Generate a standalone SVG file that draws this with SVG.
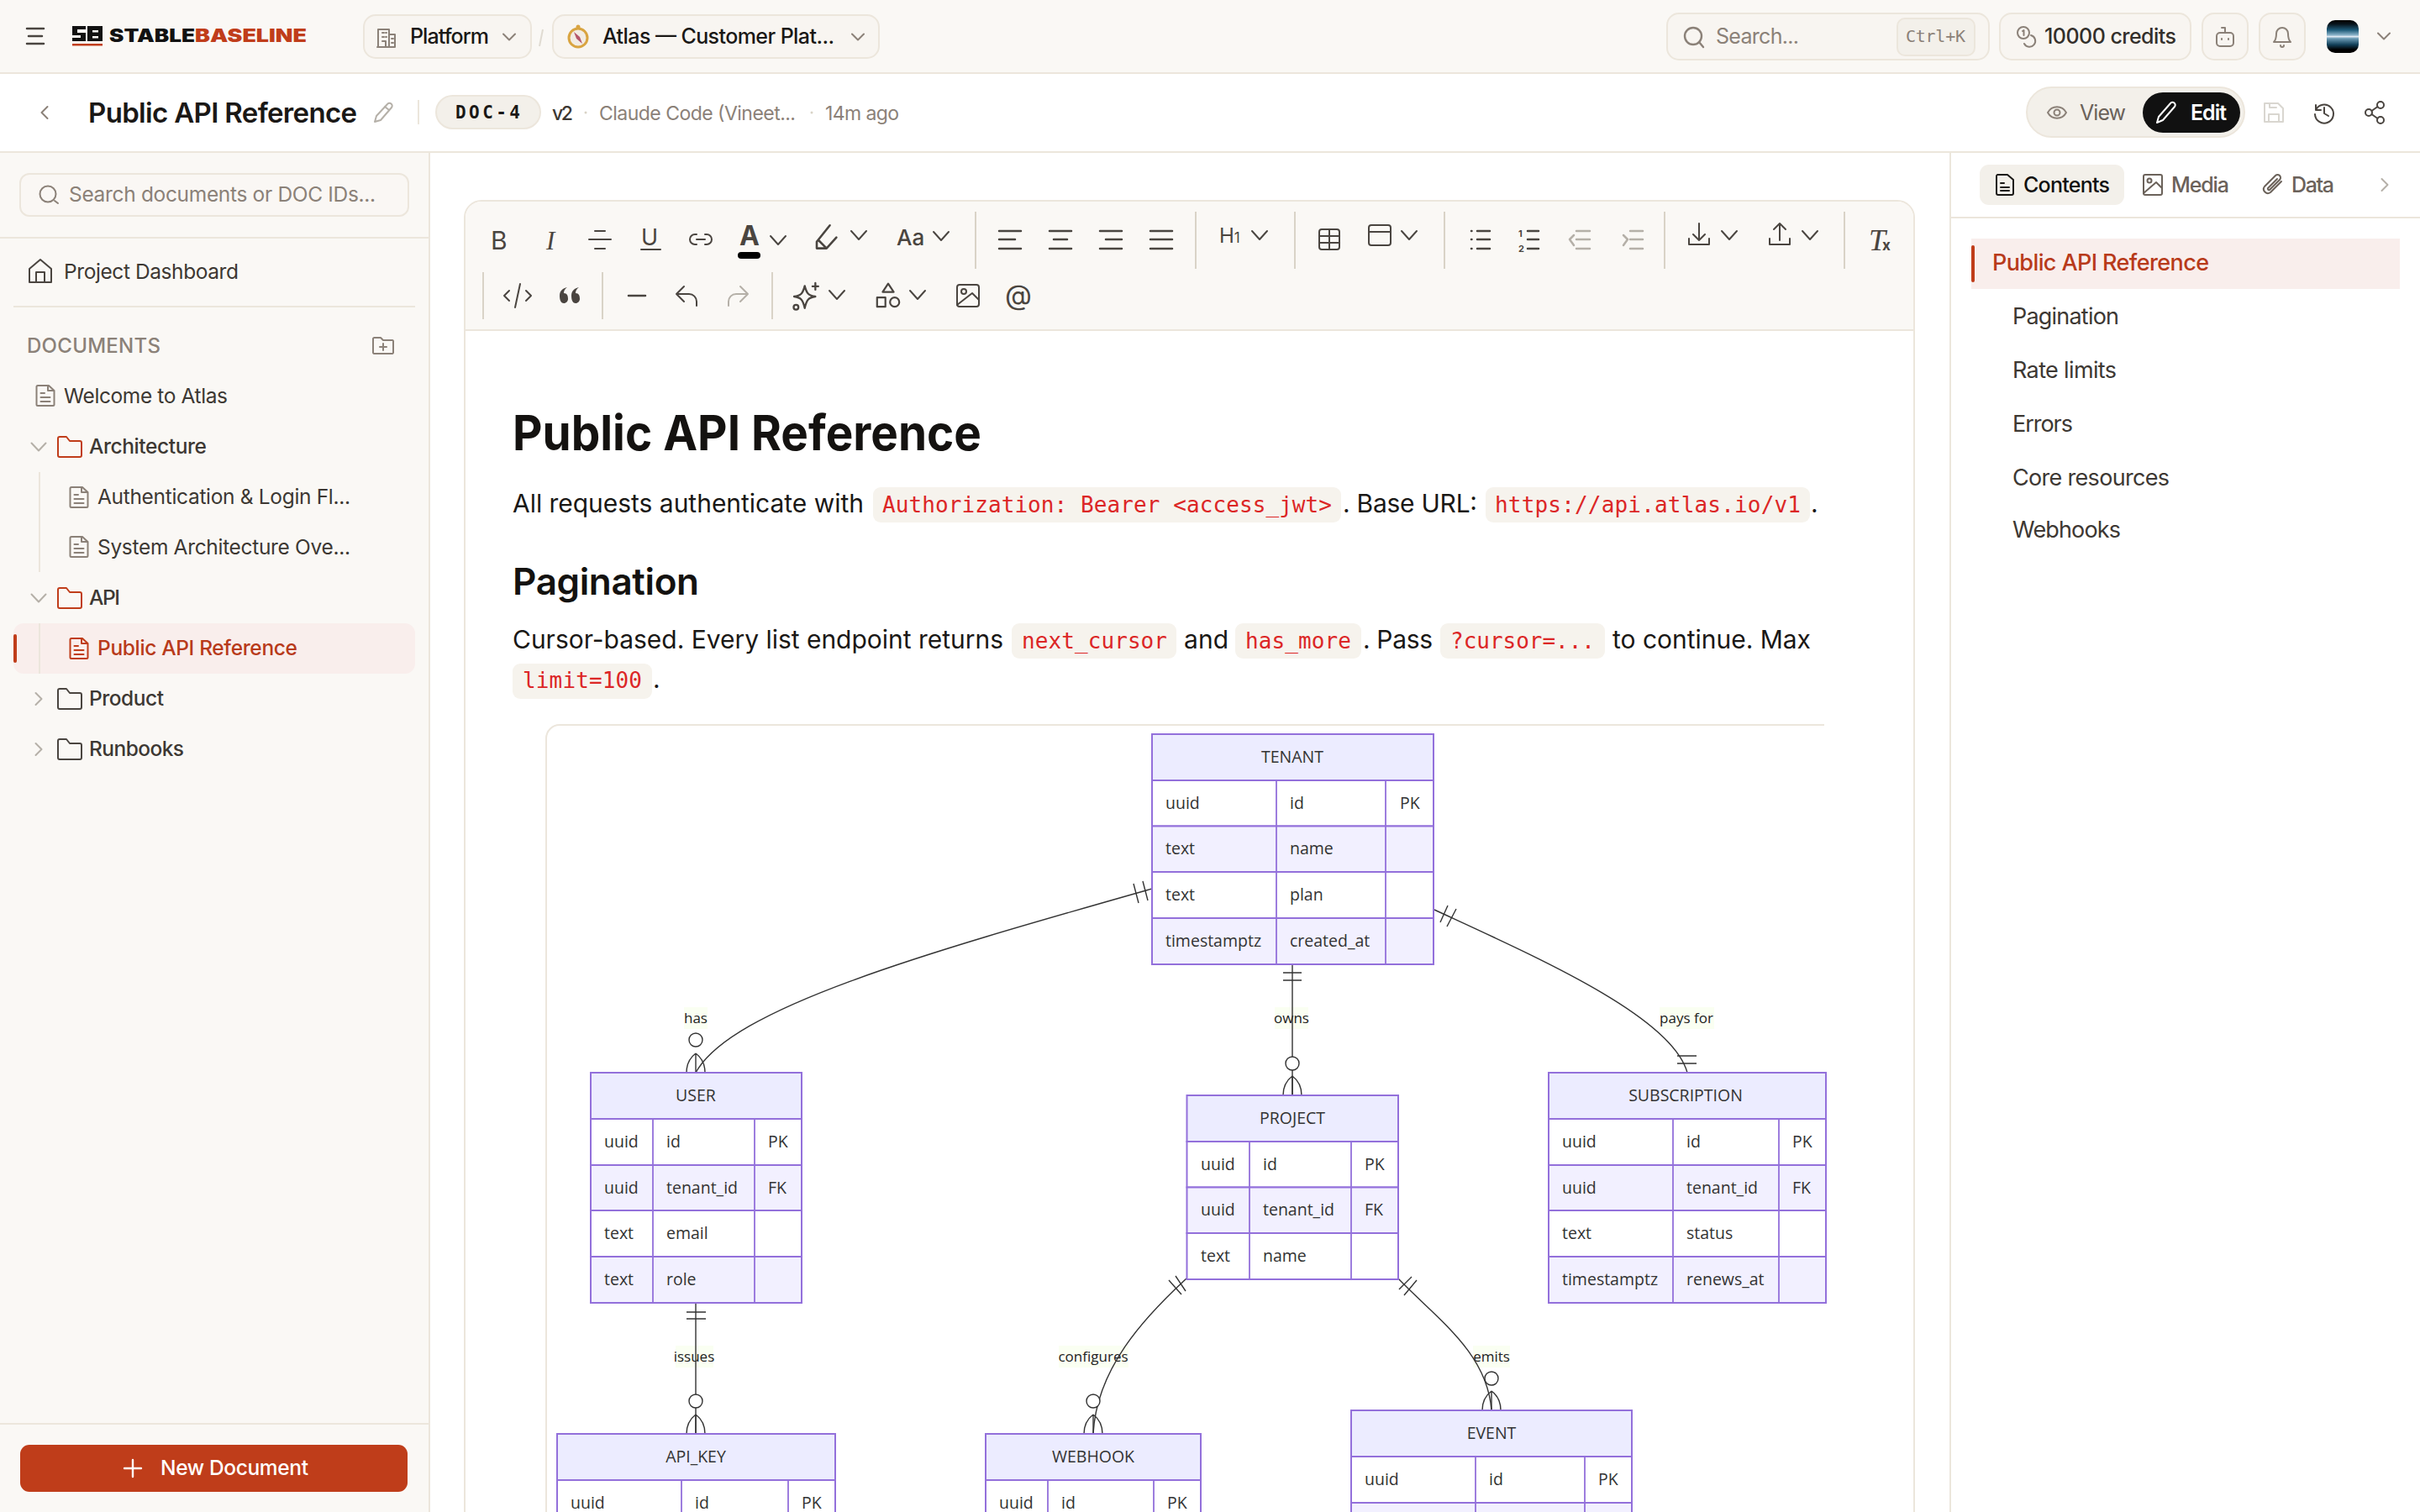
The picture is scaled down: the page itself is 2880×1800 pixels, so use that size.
<svg xmlns="http://www.w3.org/2000/svg" width="2880" height="1800" viewBox="0 0 2880 1800">
<style>
text{font-family:Inter,"Noto Sans",sans-serif;fill:#1a1816}
.i{fill:none;stroke:#4a4540;stroke-width:2;stroke-linecap:round;stroke-linejoin:round}
.g{stroke:#8b8178}.l{stroke:#b5b0a8}.r{stroke:#c03d1a}.k{stroke:#1a1816}
.bd{fill:none;stroke:#ece6dc;stroke-width:2}
.pill{fill:#f8f5f1;stroke:#ece6dc;stroke-width:2}
.sb{font-size:24.5px;fill:#3d3833}
.toc{font-size:27px;fill:#3d3833}
.p{font-size:30px;fill:#1a1816}
.c{font-family:"DejaVu Sans Mono","Liberation Mono",monospace;font-size:26px;fill:#dc2626}
.cb{fill:#f6f3ed}
.div{stroke:#d9d3c7;stroke-width:2}
.hd{fill:#ececff;stroke:#9370db;stroke-width:2}
.ra{fill:#fff;stroke:#9370db;stroke-width:2}
.rb{fill:#f2f0ff;stroke:#9370db;stroke-width:2}
.cl{stroke:#9370db;stroke-width:1.8}
.er{font-family:"Open Sans","Noto Sans",sans-serif;font-size:19.5px;fill:#333}
.et{text-anchor:middle}
.elb{fill:#f9ffef;opacity:.8}
.el{font-family:"Open Sans","Noto Sans",sans-serif;font-size:17px;fill:#222;text-anchor:middle}
.cn{fill:none;stroke:#333;stroke-width:1.4}
</style>
<defs>
<linearGradient id="av" x1="0" y1="0" x2="0" y2="1"><stop offset="0" stop-color="#000"/><stop offset=".12" stop-color="#08141c"/><stop offset=".3" stop-color="#1d5a78"/><stop offset=".46" stop-color="#8fb6cc"/><stop offset=".5" stop-color="#dfeaf3"/><stop offset=".56" stop-color="#6b9bb5"/><stop offset=".75" stop-color="#123f58"/><stop offset=".9" stop-color="#000"/></linearGradient>
<path id="chd" d="M-7-3.500 0 3.500 7-3.500"/>
<path id="chb" d="M-9-5 0 5 9-5"/>
<path id="chs" d="M-8.500-4.500 0 4.500 8.500-4.500"/>
<path id="chr" d="M-3.500-7 3.500 0-3.500 7"/>
<path id="doc" d="M-9-12H4L10.500-6V10.500A1.500 1.500 0 0 1 9 12H-9A1.500 1.500 0 0 1-10.500 10.500V-10.500A1.500 1.500 0 0 1-9-12ZM3-12V-6H10.500M-5.500-3H-1M-5.500 2H5.500M-5.500 7H5.500"/>
<path id="fld" d="M-14-10A2 2 0 0 1-12-12H-4L0-7H12A2 2 0 0 1 14-5V10A2 2 0 0 1 12 12H-12A2 2 0 0 1-14 10Z"/>
<path id="crow" d="M0 0C-8 6-11 14-11 23M0 0C8 6 11 14 11 23M0 0V23"/>
</defs>
<rect width="2880" height="1800" fill="#fff"/>

<!-- top bar -->
<rect width="2880" height="87" fill="#faf8f5"/>
<path d="M0 87H2880M0 181H2880" class="bd"/>
<path d="M32 34H52M34 43H50M32 52H52" class="i" style="stroke-width:2.500"/>
<g id="logo">
<path d="M86 31H102V35H92V39H102V49H86V45H96V42H86ZM104 31H122V49H104ZM110 36V38.500H117V36ZM110 43V45.500H117V43Z" fill="#111" fill-rule="evenodd"/>
<rect x="86" y="52" width="36" height="2.500" fill="#c03d1a"/>
<text x="130" y="49.500" font-size="21" font-weight="900" textLength="102" lengthAdjust="spacingAndGlyphs" style="fill:#111">STABLE</text>
<text x="232" y="49.500" font-size="21" font-weight="900" textLength="133" lengthAdjust="spacingAndGlyphs" style="fill:#c03d1a">BASELINE</text>
</g>
<rect x="433" y="18" width="199" height="51" rx="14" class="pill"/>
<g class="i g" transform="translate(460 44)"><path d="M-10 12V-9H3V12ZM3-3H10V12H-11M-5-5H-3M0-5H-1M-5 0H-3M0 0H-1M-5 5H-1V12M6 2H8M6 7H8"/></g>
<text x="488" y="52" font-size="25" font-weight="500" textLength="94">Platform</text>
<use href="#chd" class="i g" x="606" y="44"/>
<path d="M646 35 642 55" stroke="#e0dbd2" stroke-width="2"/>
<rect x="658" y="18" width="388" height="51" rx="14" class="pill"/>
<g transform="translate(688 45)"><circle r="11" fill="#f2ece4" stroke="#d9a441" stroke-width="3"/><path d="M-5-7 2-1 5 7-2 1Z" fill="#b5566b"/><circle cy="-13" r="2.500" fill="#d9a441"/></g>
<text x="717" y="52" font-size="25" font-weight="500" textLength="276">Atlas — Customer Plat...</text>
<use href="#chd" class="i g" x="1021" y="44"/>

<rect x="1984" y="16" width="383" height="55" rx="14" class="pill"/>
<g class="i g" style="stroke-width:2.400" transform="translate(2016 44)"><circle cx="-1" cy="-1" r="10"/><path d="M6 6 11 12"/></g>
<text x="2042" y="52" font-size="25" textLength="99" style="fill:#8b8178">Search...</text>
<rect x="2258" y="22" width="92" height="44" rx="9" fill="#f3f0ea" stroke="#ece6dc" stroke-width="2"/>
<text x="2268" y="50" font-size="20" textLength="71" style="font-family:'DejaVu Sans Mono',monospace;fill:#8b8178">Ctrl+K</text>
<rect x="2380" y="16" width="227" height="55" rx="14" class="pill"/>
<g class="i g" transform="translate(2412 44)"><circle cx="-4" cy="-5" r="7"/><path d="M-5-7-3.500-8V-2M5-2A7 7 0 1 1-3 8"/></g>
<text x="2433" y="52" font-size="25" font-weight="500" textLength="157" style="fill:#332f2b">10000 credits</text>
<rect x="2621" y="16" width="54" height="55" rx="14" class="pill"/>
<g class="i g" transform="translate(2648 44)"><rect x="-10" y="-5" width="20" height="16" rx="4"/><path d="M0-5V-11H-4M-4 2V3M4 2V3"/></g>
<rect x="2689" y="16" width="54" height="55" rx="14" class="pill"/>
<g class="i g" transform="translate(2716 44)"><path d="M-10 6C-7 3-7-1-7-4A7 7 0 0 1 7-4C7-1 7 3 10 6ZM-2 10A2 2 0 0 0 2 10"/></g>
<rect x="2769" y="24" width="38" height="39" rx="10" fill="url(#av)"/>
<use href="#chd" class="i g" x="2837" y="43"/>

<!-- document header -->
<use href="#chr" class="i g" transform="translate(53 134) scale(-1 1)"/>
<text x="105" y="146" font-size="33" font-weight="600" textLength="320">Public API Reference</text>
<g class="i l" transform="translate(456 134)"><path d="M-10 11-8 4 5-10A2.500 2.500 0 0 1 10-6L-3 9Z"/><path d="M2-7 7-3"/></g>
<path d="M498 119V148" class="bd"/>
<rect x="519" y="114" width="124" height="39" rx="19.500" fill="#f3f0ea" stroke="#ece6dc" stroke-width="2"/>
<text x="542" y="141" font-size="21" font-weight="700" textLength="77" style="font-family:'DejaVu Sans Mono',monospace">DOC-4</text>
<text x="657" y="143" font-size="23" font-weight="500" textLength="25" style="fill:#3d3833">v2</text>
<circle cx="697" cy="134" r="1.500" fill="#d9d3c7"/>
<text x="713" y="143" font-size="23" textLength="234" style="fill:#8b8178">Claude Code (Vineet...</text>
<circle cx="966" cy="134" r="1.500" fill="#d9d3c7"/>
<text x="982" y="143" font-size="23" textLength="88" style="fill:#8b8178">14m ago</text>

<rect x="2412" y="104" width="259" height="59" rx="29.500" fill="#f3f0ea" stroke="#ece6dc" stroke-width="2"/>
<rect x="2550" y="110" width="116" height="48" rx="24" fill="#111"/>
<g class="i g" transform="translate(2448 134)"><path d="M-11 0C-6-9 6-9 11 0 6 9-6 9-11 0Z"/><circle r="3.500"/></g>
<text x="2475" y="143" font-size="25" textLength="55" style="fill:#6b625a">View</text>
<g class="i" style="stroke:#fff" transform="translate(2578 134)"><path d="M-11 12-9 5 5-11A3 3 0 0 1 10-7L-4 9Z"/></g>
<text x="2607" y="143" font-size="25" font-weight="600" textLength="43" style="fill:#fff">Edit</text>
<g class="i" style="stroke:#d9d6d0" transform="translate(2706 134)"><path d="M-11-11H5L11-5V11H-11ZM-6 11V2H6V11M-5-11V-6H3"/></g>
<g class="i" transform="translate(2766 134)"><path d="M-10-9V-3H-4M-10-3A11 11 0 1 1-11 2M0-6V1L5 4"/></g>
<g class="i" transform="translate(2826 134)"><circle cx="7" cy="-9" r="4"/><circle cx="-7" cy="0" r="4"/><circle cx="7" cy="9" r="4"/><path d="M-3.500-2 3.500-7M-3.500 2 3.500 7"/></g>

<!-- sidebar -->
<rect x="0" y="182" width="510" height="1618" fill="#faf8f5"/>
<path d="M511 182V1800" class="bd"/>
<rect x="24" y="207" width="462" height="50" rx="11" fill="#faf7f4" stroke="#ece6dc" stroke-width="2"/>
<g class="i g" transform="translate(58 232)"><circle cx="-1" cy="-1" r="9.500"/><path d="M7 7 11 10"/></g>
<text x="82" y="240" class="sb" textLength="365" style="fill:#8b8178">Search documents or DOC IDs...</text>
<path d="M0 283H510M16 365H494" class="bd"/>
<g class="i" transform="translate(48 323)"><path d="M-13 13V-3L0-14 13-3V13ZM-5 13V1H5V13"/></g>
<text x="76" y="332" class="sb" textLength="208">Project Dashboard</text>
<text x="32" y="420" font-size="24" font-weight="500" textLength="159" style="fill:#8b8178">DOCUMENTS</text>
<g class="i g" transform="translate(456 412)"><path d="M-12-9A1.500 1.500 0 0 1-10-10H-3L0-7H11A1.500 1.500 0 0 1 12-5V8A1.500 1.500 0 0 1 11 9H-11A1.500 1.500 0 0 1-12 8ZM-4 1H4M0-3V5"/></g>
<use href="#doc" class="i g" x="54" y="471"/>
<text x="76" y="480" class="sb" textLength="195">Welcome to Atlas</text>
<use href="#chs" class="i l" x="46" y="532"/>
<use href="#fld" class="i r" x="83" y="532"/>
<text x="106" y="540" class="sb" font-weight="500" textLength="140">Architecture</text>
<path d="M47 562V681" class="bd"/>
<use href="#doc" class="i g" x="94" y="592"/>
<text x="116" y="600" class="sb" textLength="301">Authentication &amp; Login Fl...</text>
<use href="#doc" class="i g" x="94" y="651"/>
<text x="116" y="660" class="sb" textLength="301">System Architecture Ove...</text>
<use href="#chs" class="i l" x="46" y="712"/>
<use href="#fld" class="i r" x="83" y="712"/>
<text x="106" y="720" class="sb" font-weight="500" textLength="37">API</text>
<rect x="16" y="742" width="478" height="60" rx="12" fill="#f9eeec"/>
<path d="M47 742V802" class="bd"/>
<rect x="16" y="755" width="4" height="34" rx="2" fill="#c03d1a"/>
<use href="#doc" class="i r" x="94" y="772"/>
<text x="116" y="780" class="sb" font-weight="500" textLength="238" style="fill:#b83a1a">Public API Reference</text>
<use href="#chr" class="i l" x="46" y="832"/>
<use href="#fld" class="i" x="83" y="832"/>
<text x="106" y="840" class="sb" font-weight="500" textLength="89">Product</text>
<use href="#chr" class="i l" x="46" y="892"/>
<use href="#fld" class="i" x="83" y="892"/>
<text x="106" y="900" class="sb" font-weight="500" textLength="113">Runbooks</text>
<path d="M0 1695H510" class="bd"/>
<rect x="24" y="1720" width="461" height="56" rx="11" fill="#bf3d1a"/>
<path d="M148 1748H168M158 1738V1758" stroke="#fff" stroke-width="2.400" stroke-linecap="round"/>
<text x="191" y="1756" font-size="24.500" font-weight="500" textLength="176" style="fill:#fff">New Document</text>

<!-- editor -->
<path d="M553 1800V259A20 20 0 0 1 573 239H2258A20 20 0 0 1 2278 259V1800" fill="#fff" stroke="#ece6dc" stroke-width="2"/>
<path d="M554 393V259A19 19 0 0 1 573 240H2258A19 19 0 0 1 2277 259V393Z" fill="#faf8f5"/>
<path d="M553 393H2278" class="bd"/>

<!-- toolbar -->
<path d="M1161 252V320M1423 252V320M1541 252V320M1719 252V320M1981 252V320M2195 252V320M575 324V380M717 324V380M919 324V380" class="div"/>
<text x="584" y="297" font-size="30" style="fill:#4a4540">B</text>
<text x="650" y="297" font-size="31" style="font-family:'Liberation Serif',serif;font-style:italic;fill:#4a4540">I</text>
<text x="763" y="292" font-size="27" style="fill:#4a4540">U</text>
<text x="880" y="292" font-size="32" font-weight="700" style="fill:#4a4540">A</text>
<text x="1067" y="292" font-size="26" font-weight="500" style="fill:#4a4540">Aa</text>
<text x="1451" y="289" font-size="24" style="fill:#4a4540">H<tspan font-size="17">1</tspan></text>
<text x="2224" y="298" font-size="36" style="font-family:'Liberation Serif',serif;font-style:italic;fill:#4a4540">T</text>
<text x="2240" y="298" font-size="17" font-weight="700" style="fill:#4a4540">x</text>
<text x="1196" y="363" font-size="33" style="fill:#4a4540">@</text>
<rect x="878" y="300" width="27" height="8" rx="4" fill="#000"/>
<path d="M701 285H727M708 275H720M708 296H720M763 297H786" class="i"/>
<g class="i" transform="translate(834 285)"><path d="M-5-6H-7A6 6 0 0 0-7 6H-5M5-6H7A6 6 0 0 1 7 6H5M-5 0H5"/></g>
<use href="#chb" class="i" x="926" y="286"/>
<g class="i" transform="translate(985 280) scale(1.300)"><path d="M-8 5-1 12H-10V6L2-9M-8 5-1 12 8 2"/></g>
<use href="#chb" class="i" x="1022" y="280"/>
<use href="#chb" class="i" x="1120" y="281"/>
<path d="M1189 275H1215M1189 285H1208M1189 296H1215M1249 275H1275M1254 285H1270M1249 296H1275M1309 275H1335M1316 285H1335M1309 296H1335M1369 275H1395M1369 285H1395M1369 296H1395" class="i" style="stroke-width:2.500"/>
<use href="#chb" class="i" x="1499" y="280"/>
<g class="i" transform="translate(1582 285)"><rect x="-12" y="-12" width="24" height="24" rx="3"/><path d="M-12-4H12M-12 4H12M0-12V12"/></g>
<g class="i" transform="translate(1642 280)"><rect x="-13" y="-12" width="26" height="24" rx="3"/><path d="M-13-4H13"/></g>
<use href="#chb" class="i" x="1677" y="280"/>
<path d="M1751 275H1751.500M1751 285H1751.500M1751 296H1751.500M1758 275H1773M1758 285H1773M1758 296H1773M1818 275H1831M1818 285H1831M1818 296H1831" class="i" style="stroke-width:2.500"/>
<text x="1807" y="282" font-size="11" font-weight="700" style="fill:#4a4540">1</text>
<text x="1807" y="300" font-size="11" font-weight="700" style="fill:#4a4540">2</text>
<path d="M1873 280 1868 285 1873 292M1876 275H1892M1876 285H1892M1876 296H1892M1932 280 1937 285 1932 292M1940 275H1955M1940 285H1955M1940 296H1955" class="i l" style="stroke-width:2.500"/>
<g class="i" transform="translate(2022 280)"><path d="M-12 4V11H12V4M0-14V6M-7-1 0 6 7-1"/></g>
<use href="#chb" class="i" x="2058" y="280"/>
<g class="i" transform="translate(2118 280)"><path d="M-12 4V11H12V4M0 6V-14M-7-7 0-14 7-7"/></g>
<use href="#chb" class="i" x="2154" y="280"/>
<path d="M606 346 600 352 606 358M626 346 632 352 626 358M619 338 613 366" class="i"/>
<path d="M666 352C666 346 670 343 675 342 671 345 671 348 671 349 675 349 676 352 676 356 676 359 673 361 671 361 668 361 666 358 666 352ZM680 352C680 346 684 343 689 342 685 345 685 348 685 349 689 349 690 352 690 356 690 359 687 361 685 361 682 361 680 358 680 352Z" fill="#4a4540"/>
<path d="M748 352H768" class="i" style="stroke-width:2.500"/>
<path d="M829 364V359A9 9 0 0 0 820 350H805M814 341 805 350 814 359" class="i"/>
<path d="M867 364V359A9 9 0 0 1 876 350H890M881 341 890 350 881 359" class="i l"/>
<g class="i" transform="translate(960 353) scale(1.150)"><path d="M-2-11C0-3 2-1 9 0 2 1 0 3-2 12-4 3-6 1-13 0-6-1-4-3-2-11ZM9-14V-7M6-10.500H12"/><circle cx="-11" cy="11" r="2.500"/></g>
<use href="#chb" class="i" x="996" y="351"/>
<g class="i" transform="translate(1057 352) scale(1.100)"><path d="M0-13 6-4H-6Z"/><rect x="-12" y="2" width="9" height="10"/><circle cx="7" cy="7" r="5"/></g>
<use href="#chb" class="i" x="1092" y="351"/>
<g class="i" transform="translate(1152 352)"><rect x="-13" y="-13" width="26" height="26" rx="3"/><circle cx="-5" cy="-5" r="3"/><path d="M-13 11 5-3 13 5"/></g>

<!-- content -->
<text x="610" y="536" font-size="58" font-weight="700" textLength="558" lengthAdjust="spacingAndGlyphs" style="fill:#141210">Public API Reference</text>
<text x="610" y="610" class="p" textLength="418">All requests authenticate with</text>
<rect x="1039" y="580" width="557" height="42" rx="9" class="cb"/>
<text x="1050" y="610" class="c" textLength="535" xml:space="preserve">Authorization: Bearer &lt;access_jwt&gt;</text>
<text x="1598" y="610" class="p" textLength="160">. Base URL:</text>
<rect x="1768" y="580" width="386" height="42" rx="9" class="cb"/>
<text x="1779" y="610" class="c" textLength="364">https://api.atlas.io/v1</text>
<text x="2155" y="610" class="p">.</text>
<text x="610" y="708" font-size="44" font-weight="600" textLength="222" style="fill:#141210">Pagination</text>
<text x="610" y="772" class="p" textLength="584">Cursor-based. Every list endpoint returns</text>
<rect x="1204" y="742" width="196" height="42" rx="9" class="cb"/>
<text x="1216" y="772" class="c" textLength="173">next_cursor</text>
<text x="1409" y="772" class="p" textLength="53">and</text>
<rect x="1470" y="742" width="150" height="42" rx="9" class="cb"/>
<text x="1482" y="772" class="c" textLength="126">has_more</text>
<text x="1622" y="772" class="p" textLength="83">. Pass</text>
<rect x="1714" y="742" width="196" height="42" rx="9" class="cb"/>
<text x="1726" y="772" class="c" textLength="172">?cursor=...</text>
<text x="1919" y="772" class="p" textLength="236">to continue. Max</text>
<rect x="610" y="790" width="166" height="42" rx="9" class="cb"/>
<text x="622" y="819" class="c" textLength="142">limit=100</text>
<text x="777" y="819" class="p">.</text>

<!-- diagram frame -->
<path d="M650 1800V879A16 16 0 0 1 666 863H2171" fill="none" stroke="#ece6dc" stroke-width="2"/>

<!-- edge labels -->
<g id="edge-labels">
<rect x="814" y="1199" width="28" height="26" class="elb"/><text x="828" y="1218" class="el">has</text>
<rect x="1517" y="1199" width="40" height="26" class="elb"/><text x="1537" y="1218" class="el">owns</text>
<rect x="1975" y="1199" width="65" height="26" class="elb"/><text x="2007" y="1218" class="el">pays for</text>
<rect x="804" y="1602" width="45" height="26" class="elb"/><text x="826" y="1621" class="el">issues</text>
<rect x="1260" y="1602" width="83" height="26" class="elb"/><text x="1301" y="1621" class="el">configures</text>
<rect x="1753" y="1602" width="44" height="26" class="elb"/><text x="1775" y="1621" class="el">emits</text>
</g>

<!-- connectors -->
<g id="connectors" class="cn">
<path d="M1371 1058C1100 1135 870 1200 828 1277"/>
<path d="M1349 1052 1355 1075M1360 1049 1366 1072"/>
<circle cx="828" cy="1238" r="8" fill="#fff"/><use href="#crow" x="828" y="1254"/>
<path d="M1538 1148V1304M1527 1158H1549M1527 1167H1549"/>
<circle cx="1538" cy="1266" r="8" fill="#fff"/><use href="#crow" x="1538" y="1281"/>
<path d="M1707 1083C1830 1140 1990 1210 2008 1277"/>
<path d="M1714 1098 1723 1078M1722 1103 1733 1082"/>
<path d="M1996 1257H2019M1996 1266H2019"/>
<path d="M828 1551V1707M817 1562H840M817 1570H840"/>
<circle cx="828" cy="1668" r="8" fill="#fff"/><use href="#crow" x="828" y="1684"/>
<path d="M1412 1522C1360 1570 1305 1630 1301 1707"/>
<path d="M1391 1524 1406 1541M1399 1519 1411 1537"/>
<circle cx="1301" cy="1668" r="8" fill="#fff"/><use href="#crow" x="1301" y="1684"/>
<path d="M1664 1522C1710 1570 1770 1610 1775 1679"/>
<path d="M1665 1535 1680 1520M1671 1542 1686 1524"/>
<circle cx="1775" cy="1641" r="8" fill="#fff"/><use href="#crow" x="1775" y="1656"/>
</g>

<!-- entities -->
<g id="tenant">
<rect x="1371" y="874" width="335" height="55" class="hd"/>
<rect x="1371" y="929" width="335" height="54.500" class="ra"/><rect x="1371" y="983.500" width="335" height="54.500" class="rb"/><rect x="1371" y="1038" width="335" height="55" class="ra"/><rect x="1371" y="1093" width="335" height="55" class="rb"/>
<path d="M1519 929V1148M1649 929V1148" class="cl"/>
<text x="1538" y="908" class="er et">TENANT</text>
<text x="1387" y="963" class="er">uuid</text><text x="1535" y="963" class="er">id</text><text x="1666" y="963" class="er">PK</text>
<text x="1387" y="1017" class="er">text</text><text x="1535" y="1017" class="er">name</text>
<text x="1387" y="1072" class="er">text</text><text x="1535" y="1072" class="er">plan</text>
<text x="1387" y="1127" class="er">timestamptz</text><text x="1535" y="1127" class="er">created_at</text>
</g>
<g id="user">
<rect x="703" y="1277" width="251" height="55" class="hd"/>
<rect x="703" y="1332" width="251" height="55" class="ra"/><rect x="703" y="1387" width="251" height="54" class="rb"/><rect x="703" y="1441" width="251" height="55" class="ra"/><rect x="703" y="1496" width="251" height="55" class="rb"/>
<path d="M777 1332V1551M898 1332V1551" class="cl"/>
<text x="828" y="1311" class="er et">USER</text>
<text x="719" y="1366" class="er">uuid</text><text x="793" y="1366" class="er">id</text><text x="914" y="1366" class="er">PK</text>
<text x="719" y="1421" class="er">uuid</text><text x="793" y="1421" class="er">tenant_id</text><text x="914" y="1421" class="er">FK</text>
<text x="719" y="1475" class="er">text</text><text x="793" y="1475" class="er">email</text>
<text x="719" y="1530" class="er">text</text><text x="793" y="1530" class="er">role</text>
</g>
<g id="project">
<rect x="1412.500" y="1304" width="251.500" height="55" class="hd"/>
<rect x="1412.500" y="1359" width="251.500" height="54.500" class="ra"/><rect x="1412.500" y="1413.500" width="251.500" height="54.500" class="rb"/><rect x="1412.500" y="1468" width="251.500" height="55" class="ra"/>
<path d="M1487 1359V1523M1608 1359V1523" class="cl"/>
<text x="1538" y="1338" class="er et">PROJECT</text>
<text x="1429" y="1393" class="er">uuid</text><text x="1503" y="1393" class="er">id</text><text x="1624" y="1393" class="er">PK</text>
<text x="1429" y="1447" class="er">uuid</text><text x="1503" y="1447" class="er">tenant_id</text><text x="1624" y="1447" class="er">FK</text>
<text x="1429" y="1502" class="er">text</text><text x="1503" y="1502" class="er">name</text>
</g>
<g id="subscription">
<rect x="1843" y="1277" width="330" height="55" class="hd"/>
<rect x="1843" y="1332" width="330" height="55" class="ra"/><rect x="1843" y="1387" width="330" height="54" class="rb"/><rect x="1843" y="1441" width="330" height="55" class="ra"/><rect x="1843" y="1496" width="330" height="55" class="rb"/>
<path d="M1991 1332V1551M2117 1332V1551" class="cl"/>
<text x="2006" y="1311" class="er et">SUBSCRIPTION</text>
<text x="1859" y="1366" class="er">uuid</text><text x="2007" y="1366" class="er">id</text><text x="2133" y="1366" class="er">PK</text>
<text x="1859" y="1421" class="er">uuid</text><text x="2007" y="1421" class="er">tenant_id</text><text x="2133" y="1421" class="er">FK</text>
<text x="1859" y="1475" class="er">text</text><text x="2007" y="1475" class="er">status</text>
<text x="1859" y="1530" class="er">timestamptz</text><text x="2007" y="1530" class="er">renews_at</text>
</g>
<g id="api_key">
<rect x="663" y="1707" width="331" height="55" class="hd"/>
<rect x="663" y="1762" width="331" height="55" class="ra"/>
<path d="M811 1762V1800M938 1762V1800" class="cl"/>
<text x="828" y="1741" class="er et">API_KEY</text>
<text x="679" y="1796" class="er">uuid</text><text x="827" y="1796" class="er">id</text><text x="954" y="1796" class="er">PK</text>
</g>
<g id="webhook">
<rect x="1173" y="1707" width="256" height="55" class="hd"/>
<rect x="1173" y="1762" width="256" height="55" class="ra"/>
<path d="M1247 1762V1800M1373 1762V1800" class="cl"/>
<text x="1301" y="1741" class="er et">WEBHOOK</text>
<text x="1189" y="1796" class="er">uuid</text><text x="1263" y="1796" class="er">id</text><text x="1389" y="1796" class="er">PK</text>
</g>
<g id="event">
<rect x="1608" y="1679" width="334" height="55" class="hd"/>
<rect x="1608" y="1734" width="334" height="55" class="ra"/><rect x="1608" y="1789" width="334" height="55" class="rb"/>
<path d="M1756 1734V1800M1886 1734V1800" class="cl"/>
<text x="1775" y="1713" class="er et">EVENT</text>
<text x="1624" y="1768" class="er">uuid</text><text x="1772" y="1768" class="er">id</text><text x="1902" y="1768" class="er">PK</text>
</g>

<!-- right panel -->
<rect x="2322" y="182" width="558" height="1618" fill="#fff"/>
<path d="M2321 182V1800M2321 259H2880" class="bd"/>
<rect x="2356" y="196" width="172" height="48" rx="11" fill="#f3f0ea"/>
<g class="i k" transform="translate(2386 220)"><path d="M-9-12H3L10-6V10A2 2 0 0 1 8 12H-8A2 2 0 0 1-10 10V-10A2 2 0 0 1-9-12ZM-5-2H-1M-5 3H5M-5 7H5"/></g>
<text x="2408" y="229" font-size="25" font-weight="500" textLength="103" style="fill:#111">Contents</text>
<g class="i" style="stroke:#6b625a" transform="translate(2562 220)"><rect x="-11" y="-12" width="22" height="24" rx="2"/><circle cx="-4" cy="-5" r="2.500"/><path d="M-11 10 4-3 11 4"/></g>
<text x="2584" y="229" font-size="25" font-weight="500" textLength="69" style="fill:#6b625a">Media</text>
<g class="i" style="stroke:#6b625a" transform="translate(2704 220)"><path d="M11-4-2 9A5 5 0 0 1-9 2L4-11A3.500 3.500 0 0 1 9-6L-3 6A1.500 1.500 0 0 1-5 4L6-7"/></g>
<text x="2727" y="229" font-size="25" font-weight="500" textLength="51" style="fill:#6b625a">Data</text>
<use href="#chr" class="i l" x="2838" y="220"/>
<rect x="2346" y="284" width="510" height="60" fill="#f9eeec"/>
<rect x="2346" y="292" width="4" height="44" rx="2" fill="#c03d1a"/>
<text x="2371" y="322" class="toc" font-weight="500" textLength="258" style="fill:#b83a1a">Public API Reference</text>
<text x="2395" y="386" class="toc" textLength="127">Pagination</text>
<text x="2395" y="450" class="toc" textLength="124">Rate limits</text>
<text x="2395" y="514" class="toc" textLength="72">Errors</text>
<text x="2395" y="578" class="toc" textLength="187">Core resources</text>
<text x="2395" y="640" class="toc" textLength="129">Webhooks</text>
</svg>
